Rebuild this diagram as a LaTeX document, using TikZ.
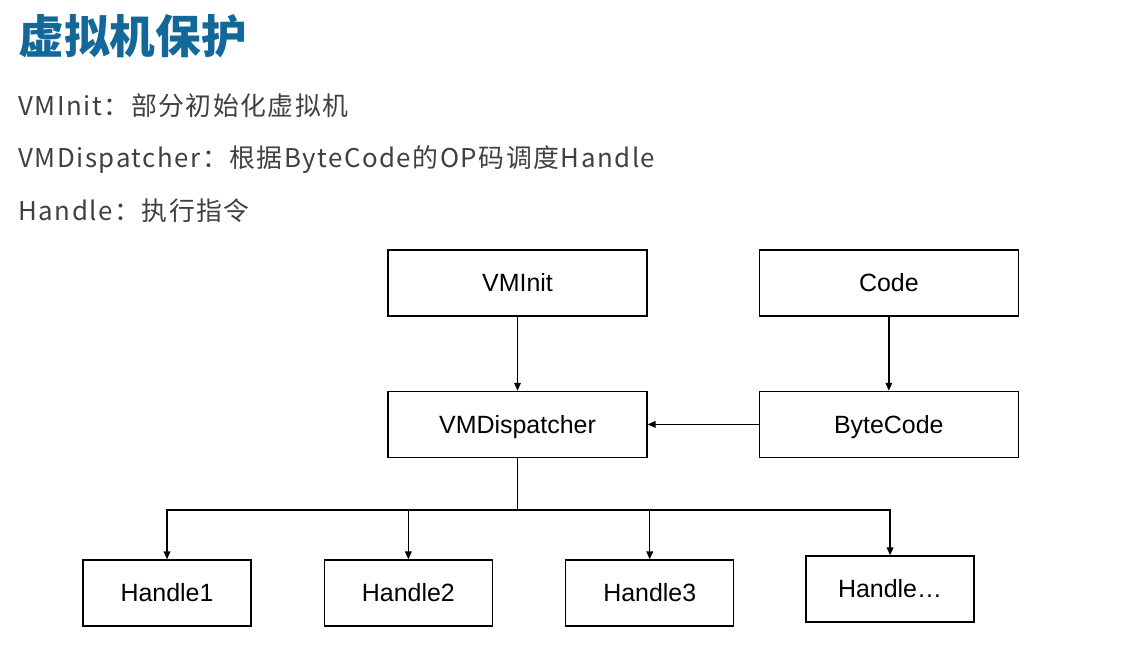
\documentclass[tikz,border=0pt]{standalone}
\usepackage{fontspec}
\setmainfont{Liberation Sans}
\newfontfamily\cjk[LetterSpace=6]{Noto Sans CJK SC}
\newfontfamily\cjktitle{Noto Sans CJK SC}
\usetikzlibrary{arrows.meta, positioning}
\usepackage{xcolor}
\definecolor{titleblue}{RGB}{17,104,153}
\definecolor{desctext}{RGB}{64,64,64}

\begin{document}
\begin{tikzpicture}[
    x=0.02cm, y=-0.02cm,
    >={Triangle[length=4.5pt, width=3.8pt]},
    font=\fontsize{14.2}{17}\selectfont,
    box/.style={draw, rectangle, line width=0.8pt, minimum width=5.18cm, minimum height=1.32cm, inner sep=0pt, text height=1.0em, text depth=0pt},
    handle/.style={box, minimum width=3.36cm},
    title/.style={anchor=base west, inner sep=0pt, text=titleblue, font=\cjktitle\bfseries\fontsize{26}{30}\selectfont},
    desc/.style={anchor=base west, inner sep=0pt, text=desctext, font=\cjk\fontsize{14.7}{18}\selectfont},
    arrow/.style={->, line width=0.75pt},
    line/.style={line width=0.75pt}
  ]
    \useasboundingbox (0,0) rectangle (1146,659);
    \node[title] (title) at (18,53) {虚拟机保护};
    \node[desc] (d1) at (18,115) {VMInit：部分初始化虚拟机};
    \node[desc] (d2) at (18,167) {VMDispatcher：根据ByteCode的OP码调度Handle};
    \node[desc] (d3) at (18,220) {Handle：执行指令};
    \node[box] (vminit) at (517.5,283) {VMInit};
    \node[box, right=2.22cm of vminit] (code) {Code};
    \node[box, below=1.48cm of vminit] (disp) {VMDispatcher};
    \node[box, below=1.48cm of code] (bytecode) {ByteCode};
    \node[handle] (h1) at (167,593) {Handle1};
    \node[handle, right=1.44cm of h1] (h2) {Handle2};
    \node[handle, right=1.44cm of h2] (h3) {Handle3};
    \node[handle, right=1.42cm of h3, yshift=0.08cm] (h4) {Handle…};
    \coordinate[below=1.04cm of disp.south] (bus);
    \draw[arrow] (vminit) -- (disp);
    \draw[arrow] (code) -- (bytecode);
    \draw[arrow] (bytecode) -- (disp);
    \draw[line] (disp.south) -- (bus);
    \foreach \h in {h1,h2,h3,h4}
      \draw[arrow] (bus) -| (\h.north);
  \end{tikzpicture}
\end{document}
